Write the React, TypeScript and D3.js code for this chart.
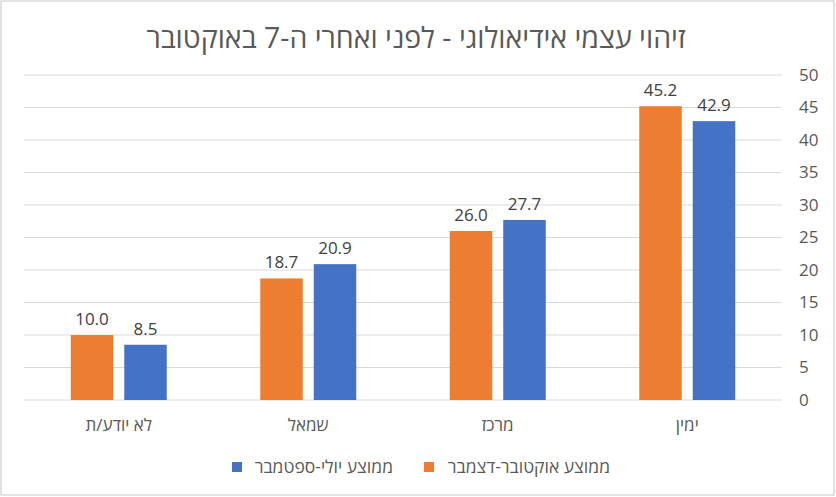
import * as d3 from 'd3'
import { useEffect, useRef } from 'react'

// categories in right-to-left order (right-most first)
const categories = ['ימין', 'מרכז', 'שמאל', 'לא יודע/ת']
const octDec = [45.2, 26.0, 18.7, 10.0]
const julSep = [42.9, 27.7, 20.9, 8.5]
const seriesNames = ['ממוצע אוקטובר-דצמבר', 'ממוצע יולי-ספטמבר']
const seriesColors = ['#ED7D31', '#4472C4']
const yTicks = [0, 5, 10, 15, 20, 25, 30, 35, 40, 45, 50]
const title = 'זיהוי עצמי אידיאולוגי - לפני ואחרי ה-7 באוקטובר'

const W = 836
const H = 497
const FONT = "'Open Sans', 'DejaVu Sans', sans-serif"

export default function App() {
  const svgRef = useRef(null) as any

  useEffect(() => {
    const svg = d3.select(svgRef.current)
    svg.selectAll('*').remove()

    const left = 24
    const right = 782
    const top = 75
    const bottom = 400

    svg.append('rect')
      .attr('x', 0).attr('y', 0).attr('width', W).attr('height', H)
      .attr('fill', '#fff')
    svg.append('rect')
      .attr('x', 1).attr('y', 1).attr('width', W - 3).attr('height', H - 3)
      .attr('fill', 'none').attr('stroke', '#d9d9d9').attr('stroke-width', 1.5)

    // categories run right to left
    const x0 = d3.scaleBand()
      .domain(categories)
      .range([right, left])
      .paddingInner(0)
      .paddingOuter(0)

    const y = d3.scaleLinear().domain([0, 50]).range([bottom, top])

    svg.append('g')
      .selectAll('line')
      .data(yTicks)
      .join('line')
      .attr('x1', left).attr('x2', right)
      .attr('y1', d => y(d)).attr('y2', d => y(d))
      .attr('stroke', '#d9d9d9').attr('stroke-width', 1.2)

    svg.append('g')
      .selectAll('text')
      .data(yTicks)
      .join('text')
      .attr('x', 799)
      .attr('y', d => y(d))
      .attr('dy', '0.35em')
      .attr('text-anchor', 'start')
      .attr('fill', '#595959')
      .style('font-family', FONT)
      .style('font-size', '17px')
      .text(d => d)

    const bw = x0.bandwidth()
    const barW = 42.5
    const gap = 11
    const x1 = d3.scaleOrdinal<number, number>()
      .domain([0, 1])
      .range([-(barW + gap / 2), gap / 2])

    const series = [octDec, julSep]
    categories.forEach((c, ci) => {
      const cx = (x0(c) as number) + bw / 2
      series.forEach((vals, si) => {
        const bx = cx + x1(si)
        svg.append('rect')
          .attr('x', bx)
          .attr('y', y(vals[ci]))
          .attr('width', barW)
          .attr('height', y(0) - y(vals[ci]))
          .attr('fill', seriesColors[si])
        svg.append('text')
          .attr('x', bx + barW / 2)
          .attr('y', y(vals[ci]) - 10)
          .attr('text-anchor', 'middle')
          .attr('fill', '#404040')
          .style('font-family', FONT)
          .style('font-size', '17px')
          .text(vals[ci].toFixed(1))
      })
      svg.append('text')
        .attr('x', cx)
        .attr('y', 431)
        .attr('text-anchor', 'middle')
        .attr('fill', '#595959')
        .attr('direction', 'rtl')
        .style('font-family', FONT)
        .style('font-size', '17px')
        .text(c)
    })

    svg.append('text')
      .attr('x', 416)
      .attr('y', 48)
      .attr('text-anchor', 'middle')
      .attr('direction', 'rtl')
      .attr('fill', '#595959')
      .style('font-family', FONT)
      .style('font-size', '28.5px')
      .text(title)

    // legend: swatch on the left of each label
    const legendItems = [
      { name: seriesNames[1], color: seriesColors[1], sx: 232, tx: 393 },
      { name: seriesNames[0], color: seriesColors[0], sx: 424, tx: 610 },
    ]
    legendItems.forEach(it => {
      svg.append('rect')
        .attr('x', it.sx).attr('y', 462)
        .attr('width', 10).attr('height', 10)
        .attr('fill', it.color)
      svg.append('text')
        .attr('x', it.tx)
        .attr('y', 467)
        .attr('dy', '0.35em')
        .attr('text-anchor', 'start')
        .attr('direction', 'rtl')
        .attr('fill', '#595959')
        .style('font-family', FONT)
        .style('font-size', '17.5px')
        .text(it.name)
    })
  }, [])

  return (
    <svg
      ref={svgRef}
      width={W}
      height={H}
      style={{ position: 'absolute', left: 0, top: 0, display: 'block' }}
    />
  )
}
